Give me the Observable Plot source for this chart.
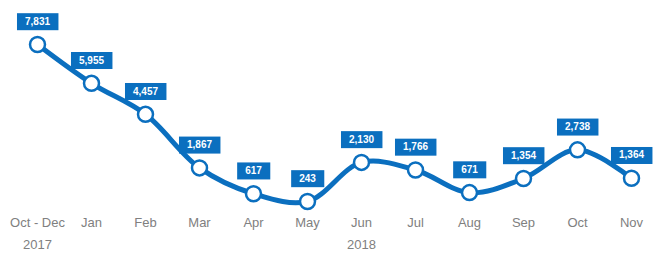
<!DOCTYPE html>
<html>
<head>
<meta charset="utf-8">
<script src="https://cdn.jsdelivr.net/npm/d3@7"></script>
<script src="https://cdn.jsdelivr.net/npm/@observablehq/plot@0.6"></script>
<style>
  html, body { margin: 0; padding: 0; background: #fff; }
  #chart svg { display: block; }
</style>
</head>
<body>
<div id="chart"></div>
<script>
const months = ["Oct - Dec", "Jan", "Feb", "Mar", "Apr", "May", "Jun", "Jul", "Aug", "Sep", "Oct", "Nov"];
const values = [7831, 5955, 4457, 1867, 617, 243, 2130, 1766, 671, 1354, 2738, 1364];
const yearMonths = ["Oct - Dec", "Jun"];
const yearLabels = ["2017", "2018"];

const data = months.map((m, i) => ({month: m, value: values[i]}));
const years = yearMonths.map((m, i) => ({month: m, year: yearLabels[i]}));

const blue = "#0b6fbf";
const font = "'Liberation Sans', Arial, sans-serif";

const chart = Plot.plot({
  width: 654,
  height: 253,
  marginLeft: 36,
  marginRight: 22,
  marginTop: 10,
  marginBottom: 47,
  style: {fontFamily: font, background: "#fff"},
  x: {type: "point", domain: months, padding: 0, axis: null},
  y: {domain: [0, 7831], range: [206, 44], axis: null},
  marks: [
    Plot.line(data, {x: "month", y: "value", stroke: blue, strokeWidth: 5, curve: "catmull-rom"}),
    Plot.dot(data, {x: "month", y: "value", r: 7.5, fill: "white", stroke: blue, strokeWidth: 2.5}),
    Plot.text(data, {x: "month", y: "value", text: d => d3.format(",")(d.value), dy: -23,
      fill: "white", fontWeight: "bold", fontSize: 10, className: "vlabel"}),
    Plot.text(data, {x: "month", y: () => 0, text: "month", dy: 16, fill: "#808080", fontSize: 13}),
    Plot.text(years, {x: "month", y: () => 0, text: "year", dy: 38.5, fill: "#808080", fontSize: 13})
  ]
});
document.getElementById("chart").appendChild(chart);

// Add blue boxes behind the value labels, sized from each rendered label.
const g = chart.querySelector("g.vlabel") || chart.querySelector(".vlabel");
if (g) {
  g.querySelectorAll("text").forEach(t => {
    const b = t.getBBox();
    const ctm = t.getAttribute("transform");
    const r = document.createElementNS("http://www.w3.org/2000/svg", "rect");
    const cx = b.x + b.width / 2;
    const cy = b.y + b.height / 2;
    const w = b.width + 16, h = 17;
    r.setAttribute("x", cx - w / 2);
    r.setAttribute("y", cy - h / 2 + 0.5);
    r.setAttribute("width", w);
    r.setAttribute("height", h);
    r.setAttribute("fill", blue);
    if (ctm) r.setAttribute("transform", ctm);
    g.insertBefore(r, t);
  });
}
</script>
</body>
</html>
